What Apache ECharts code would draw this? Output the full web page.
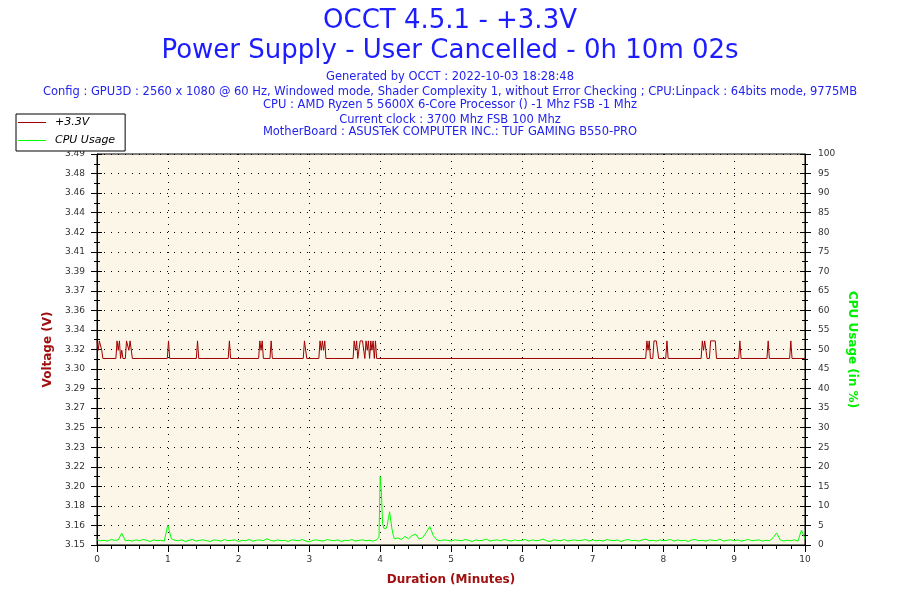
<!DOCTYPE html>
<html>
<head>
<meta charset="utf-8">
<script src="https://cdn.jsdelivr.net/npm/echarts@6/dist/echarts.min.js"></script>
<style>html,body{margin:0;padding:0;background:#fff}#c{width:900px;height:600px}</style>
</head>
<body>
<div id="c"></div>
<script>
// ---------- text ----------
const titleMain = 'OCCT 4.5.1 - +3.3V';
const titleSub = 'Power Supply - User Cancelled - 0h 10m 02s';
const infoLines = [
  'Generated by OCCT : 2022-10-03 18:28:48',
  'Config : GPU3D : 2560 x 1080 @ 60 Hz, Windowed mode, Shader Complexity 1, without Error Checking ; CPU:Linpack : 64bits mode, 9775MB',
  'CPU : AMD Ryzen 5 5600X 6-Core Processor () -1 Mhz FSB -1 Mhz',
  'Current clock : 3700 Mhz FSB 100 Mhz',
  'MotherBoard : ASUSTeK COMPUTER INC.: TUF GAMING B550-PRO'
];
const seriesNames = ['+3.3V', 'CPU Usage'];
const xAxisName = 'Duration (Minutes)';
const leftAxisName = 'Voltage (V)';
const rightAxisName = 'CPU Usage (in %)';

// ---------- tick labels ----------
const voltTickLabels = ['3.15','3.16','3.18','3.20','3.22','3.23','3.25','3.27','3.29','3.30','3.32',
  '3.34','3.36','3.37','3.39','3.41','3.42','3.44','3.46','3.48','3.49'];
const voltMin = 3.15;
const voltStep = 1 / 60;
const cpuTicks = [0, 100, 5];
const minuteTicks = [0, 10, 1];

// ---------- +3.3V series (minutes, volts) ----------
const voltMinutes = [
  0.000, 0.017, 0.033, 0.050, 0.067, 0.083,
  0.267, 0.283, 0.300, 0.317, 0.333, 0.350, 0.367, 0.400, 0.417, 0.433, 0.450, 0.467, 0.483, 0.500, 0.517,
  0.993, 1.010, 1.027,
  1.403, 1.420, 1.437,
  1.853, 1.870, 1.887,
  2.283, 2.300, 2.317, 2.333, 2.350,
  2.443, 2.460, 2.477,
  2.913, 2.930, 2.947, 2.963,
  3.133, 3.150, 3.167, 3.183, 3.200, 3.217, 3.233,
  3.617, 3.633, 3.650, 3.667, 3.683, 3.700, 3.717, 3.733, 3.750, 3.767, 3.783, 3.800, 3.817, 3.833, 3.850,
  3.867, 3.883, 3.900, 3.917, 3.933, 3.950,
  7.750, 7.767, 7.783, 7.800, 7.817, 7.850, 7.867, 7.883, 7.900, 7.917, 7.933,
  8.033, 8.050, 8.067,
  8.533, 8.550, 8.567, 8.583, 8.600, 8.617, 8.650, 8.667, 8.683, 8.700, 8.717, 8.733, 8.750,
  9.063, 9.080, 9.097,
  9.463, 9.480, 9.497,
  9.783, 9.800, 9.817,
  10.000
];
const voltValues = [
  3.324, 3.316, 3.324, 3.324, 3.316, 3.309,
  3.309, 3.324, 3.316, 3.324, 3.309, 3.316, 3.309, 3.309, 3.324, 3.324, 3.316, 3.324, 3.324, 3.309, 3.309,
  3.309, 3.324, 3.309,
  3.309, 3.324, 3.309,
  3.309, 3.324, 3.309,
  3.309, 3.324, 3.316, 3.324, 3.309,
  3.309, 3.324, 3.309,
  3.309, 3.324, 3.324, 3.309,
  3.309, 3.324, 3.316, 3.324, 3.316, 3.324, 3.309,
  3.309, 3.324, 3.316, 3.324, 3.309, 3.309, 3.324, 3.324, 3.324, 3.324, 3.309, 3.324, 3.316, 3.324, 3.309,
  3.324, 3.316, 3.324, 3.309, 3.324, 3.309,
  3.309, 3.324, 3.316, 3.324, 3.309, 3.309, 3.324, 3.324, 3.324, 3.324, 3.309,
  3.309, 3.324, 3.309,
  3.309, 3.324, 3.316, 3.324, 3.324, 3.309, 3.309, 3.324, 3.324, 3.324, 3.324, 3.324, 3.309,
  3.309, 3.324, 3.309,
  3.309, 3.324, 3.309,
  3.309, 3.324, 3.309,
  3.309
];

// ---------- CPU usage series (minutes, %) ----------
const cpuMinutes = [
  0.00,0.05,0.10,0.15,0.20,0.25,0.30,0.35,0.40,0.45,0.50,0.55,0.60,0.65,0.70,0.75,0.80,0.85,0.90,0.95,
  1.00,1.05,1.10,1.15,1.20,1.25,1.30,1.35,1.40,1.45,1.50,1.55,1.60,1.65,1.70,1.75,1.80,1.85,1.90,1.95,
  2.00,2.05,2.10,2.15,2.20,2.25,2.30,2.35,2.40,2.45,2.50,2.55,2.60,2.65,2.70,2.75,2.80,2.85,2.90,2.95,
  3.00,3.05,3.10,3.15,3.20,3.25,3.30,3.35,3.40,3.45,3.50,3.55,3.60,3.65,3.70,3.75,3.80,3.85,3.90,3.95,
  3.967,3.983,4.000,4.017,4.033,4.050,4.067,4.083,4.100,4.117,4.133,4.150,4.167,4.183,4.200,
  4.25,4.30,4.35,4.40,4.45,4.50,4.55,4.60,4.65,4.70,4.75,4.80,4.85,4.90,4.95,
  5.00,5.05,5.10,5.15,5.20,5.25,5.30,5.35,5.40,5.45,5.50,5.55,5.60,5.65,5.70,5.75,5.80,5.85,5.90,5.95,
  6.00,6.05,6.10,6.15,6.20,6.25,6.30,6.35,6.40,6.45,6.50,6.55,6.60,6.65,6.70,6.75,6.80,6.85,6.90,6.95,
  7.00,7.05,7.10,7.15,7.20,7.25,7.30,7.35,7.40,7.45,7.50,7.55,7.60,7.65,7.70,7.75,7.80,7.85,7.90,7.95,
  8.00,8.05,8.10,8.15,8.20,8.25,8.30,8.35,8.40,8.45,8.50,8.55,8.60,8.65,8.70,8.75,8.80,8.85,8.90,8.95,
  9.00,9.05,9.10,9.15,9.20,9.25,9.30,9.35,9.40,9.45,9.50,9.55,9.60,9.65,9.70,9.75,9.80,9.85,9.90,9.95,
  10.00
];
const cpuValues = [
  1.3,1.1,1.2,1.0,1.4,1.2,1.3,3.0,1.1,1.2,1.0,1.3,1.1,1.4,1.2,0.9,1.3,1.1,1.2,1.0,
  5.1,1.6,1.2,1.1,1.3,0.9,1.2,1.4,1.0,1.2,1.3,1.1,0.9,1.3,1.2,1.0,1.4,1.1,1.2,1.3,
  0.9,1.2,1.1,1.4,1.0,1.2,1.3,1.1,1.6,1.2,1.0,1.3,1.1,1.2,0.9,1.3,1.2,1.1,1.4,1.0,
  0.8,1.2,1.3,1.1,1.0,1.4,1.2,1.1,1.3,0.9,1.2,1.1,1.4,1.0,1.2,1.3,1.1,1.2,1.0,1.3,
  1.2,2.0,17.5,13.5,5.5,4.3,4.6,4.2,5.0,7.0,8.5,6.2,4.0,2.6,1.6,
  1.8,1.4,2.2,1.6,2.4,2.8,1.5,1.9,3.2,4.7,2.4,1.3,1.1,1.3,1.2,
  1.0,1.3,1.2,1.1,1.4,1.2,0.9,1.3,1.1,1.2,1.5,1.0,1.2,1.3,1.1,1.4,1.2,1.0,1.3,1.1,
  1.2,1.4,1.0,1.3,1.1,1.2,1.5,1.1,0.9,1.3,1.2,1.1,1.4,1.0,1.2,1.3,1.1,1.2,1.4,1.0,
  1.3,1.1,1.2,1.0,1.4,1.2,1.1,1.3,0.9,1.2,1.4,1.1,1.2,1.0,1.3,1.5,1.1,1.2,1.0,1.3,
  1.1,1.2,1.4,1.0,1.3,1.1,1.2,0.9,1.3,1.4,1.1,1.2,1.0,1.3,1.2,1.1,1.5,1.0,1.2,1.3,
  1.1,1.3,1.0,1.2,1.4,1.1,1.2,1.3,1.0,1.2,1.1,1.9,3.1,1.3,1.0,1.2,1.1,1.3,1.0,3.8,
  1.6
];

// ---------- build ----------
const voltData = voltMinutes.map((t, i) => [t, voltValues[i]]);
const cpuData = cpuMinutes.map((t, i) => [t, cpuValues[i]]);
const voltMax = voltMin + (voltTickLabels.length - 1) * voltStep;
const voltLabel = v => voltTickLabels[Math.round((v - voltMin) / voltStep)] || '';

const FONT = 'DejaVu Sans';
const blue = '#2323ee';
const darkRed = '#a01010';
const green = '#00ee00';
const lblStyle = { fontFamily: FONT, fontSize: 9, color: '#333' };

const graphics = [
  { type: 'text', left: 'center', top: 8, style: { text: titleMain, font: '26px "DejaVu Sans"', fill: '#1c1cff' } },
  { type: 'text', left: 'center', top: 38, style: { text: titleSub, font: '26px "DejaVu Sans"', fill: '#1c1cff' } }
];
const infoTops = [71.5, 86, 99.5, 114, 126.5];
infoLines.forEach((s, i) => graphics.push({
  type: 'text', left: 'center', top: infoTops[i],
  style: { text: s, font: '11.5px "DejaVu Sans"', fill: blue }
}));

const chart = echarts.init(document.getElementById('c'), null, { renderer: 'canvas' });
chart.setOption({
  animation: false,
  backgroundColor: '#ffffff',
  graphic: graphics,
  legend: {
    left: 16, top: 114, orient: 'vertical',
    padding: [0, 10, 2, 2], itemGap: 1,
    itemWidth: 28, itemHeight: 1,
    icon: 'path://M0 0H28V1H0Z',
    backgroundColor: '#fff', borderColor: '#000', borderWidth: 1, borderRadius: 0,
    textStyle: { fontFamily: FONT, fontSize: 11, fontStyle: 'italic', color: '#000', lineHeight: 17, padding: [0, 0, 0, 4] },
    z: 10,
    data: seriesNames
  },
  grid: {
    left: 97, right: 95, top: 154, bottom: 55,
    show: true, backgroundColor: '#fbf6e8', borderColor: '#000', borderWidth: 1
  },
  xAxis: [{
    type: 'value', min: minuteTicks[0], max: minuteTicks[1], interval: minuteTicks[2],
    name: xAxisName, nameLocation: 'middle', nameGap: 29,
    nameTextStyle: { fontFamily: FONT, fontSize: 12, fontWeight: 'bold', color: darkRed },
    axisLine: { lineStyle: { color: '#000', width: 1 } },
    axisTick: { length: 7, lineStyle: { color: '#000' } },
    minorTick: { show: true, splitNumber: 5, length: 4, lineStyle: { color: '#000' } },
    axisLabel: Object.assign({ margin: 10 }, lblStyle),
    splitLine: { show: true, lineStyle: { color: '#000', type: [1, 6], width: 1 } }
  }],
  yAxis: [{
    type: 'value', position: 'left', min: voltMin, max: voltMax, interval: voltStep,
    name: leftAxisName, nameLocation: 'middle', nameGap: 40, nameRotate: 90,
    nameTextStyle: { fontFamily: FONT, fontSize: 12, fontWeight: 'bold', color: darkRed },
    axisLine: { show: true, lineStyle: { color: '#000', width: 1 } },
    axisTick: { length: 6, lineStyle: { color: '#000' } },
    minorTick: { show: true, splitNumber: 2, length: 3, lineStyle: { color: '#000' } },
    axisLabel: Object.assign({ margin: 12, formatter: voltLabel }, lblStyle),
    splitLine: { show: true, lineStyle: { color: '#000', type: [1, 6], width: 1 } }
  }, {
    type: 'value', position: 'right', min: cpuTicks[0], max: cpuTicks[1], interval: cpuTicks[2],
    name: rightAxisName, nameLocation: 'middle', nameGap: 40, nameRotate: -90,
    nameTextStyle: { fontFamily: FONT, fontSize: 12, fontWeight: 'bold', color: green },
    axisLine: { show: true, lineStyle: { color: '#000', width: 1 } },
    axisTick: { length: 6, lineStyle: { color: '#000' } },
    minorTick: { show: true, splitNumber: 2, length: 3, lineStyle: { color: '#000' } },
    axisLabel: Object.assign({ margin: 13 }, lblStyle),
    splitLine: { show: false }
  }, {
    type: 'value', position: 'left', min: voltMin, max: voltMax, interval: voltStep,
    axisLine: { show: false },
    axisTick: { inside: true, length: 5, lineStyle: { color: '#000' } },
    minorTick: { show: true, splitNumber: 2, length: 3, lineStyle: { color: '#000' } },
    axisLabel: { show: false }, splitLine: { show: false }
  }, {
    type: 'value', position: 'right', min: cpuTicks[0], max: cpuTicks[1], interval: cpuTicks[2],
    axisLine: { show: false },
    axisTick: { inside: true, length: 5, lineStyle: { color: '#000' } },
    minorTick: { show: true, splitNumber: 2, length: 3, lineStyle: { color: '#000' } },
    axisLabel: { show: false }, splitLine: { show: false }
  }],
  series: [{
    name: seriesNames[0], type: 'line', yAxisIndex: 0, data: voltData,
    showSymbol: false, symbol: 'none', color: '#a00000',
    lineStyle: { color: '#a00000', width: 1 }, z: 3
  }, {
    name: seriesNames[1], type: 'line', yAxisIndex: 1, data: cpuData,
    showSymbol: false, symbol: 'none', color: '#00ff00',
    lineStyle: { color: '#00ff00', width: 1 }, z: 3
  }]
});
</script>
</body>
</html>
